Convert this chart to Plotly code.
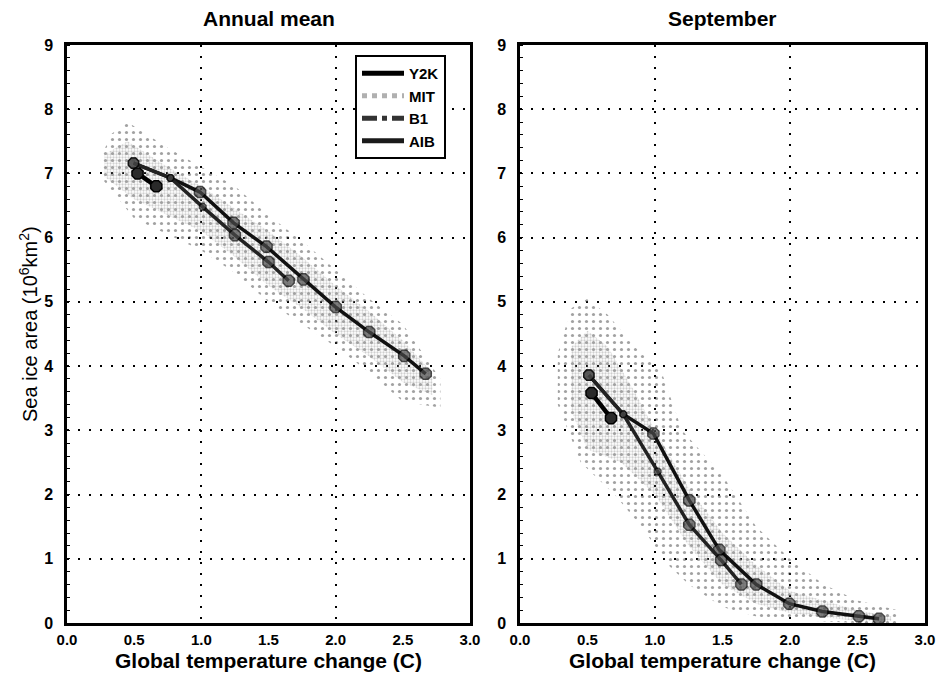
import plotly.graph_objects as go

# ---------------- data ----------------
x_tick_vals = [0.0, 0.5, 1.0, 1.5, 2.0, 2.5, 3.0]
x_tick_text = ["0.0", "0.5", "1.0", "1.5", "2.0", "2.5", "3.0"]
y_tick_vals = [0, 1, 2, 3, 4, 5, 6, 7, 8, 9]

# Annual mean panel
ann_a1b_x = [0.495, 0.77, 0.99, 1.24, 1.485, 1.76, 2.0, 2.25, 2.51, 2.67]
ann_a1b_y = [7.16, 6.93, 6.71, 6.23, 5.86, 5.35, 4.92, 4.53, 4.16, 3.88]
ann_b1_x = [0.495, 0.77, 1.01, 1.25, 1.50, 1.65]
ann_b1_y = [7.16, 6.93, 6.48, 6.04, 5.62, 5.33]
ann_y2k_x = [0.525, 0.665]
ann_y2k_y = [7.00, 6.80]

# MIT ensemble cloud (annual), outer sparse envelope and dense core
ann_mit_outer_up_x = [0.25, 0.32, 0.45, 0.75, 1.0, 1.25, 1.5, 1.75, 2.0, 2.25, 2.5, 2.78]
ann_mit_outer_up_y = [7.2, 7.6, 7.8, 7.4, 7.1, 6.8, 6.35, 5.95, 5.5, 5.05, 4.65, 3.8]
ann_mit_outer_lo_x = [0.25, 0.5, 0.75, 1.0, 1.25, 1.5, 1.75, 2.0, 2.25, 2.5, 2.78]
ann_mit_outer_lo_y = [6.95, 6.3, 6.05, 5.8, 5.45, 5.0, 4.65, 4.3, 3.9, 3.45, 3.35]
ann_mit_core_up_x = [0.28, 0.45, 0.75, 1.0, 1.25, 1.5, 1.75, 2.0, 2.25, 2.5, 2.72]
ann_mit_core_up_y = [7.3, 7.5, 7.1, 6.8, 6.45, 6.1, 5.7, 5.25, 4.85, 4.4, 3.9]
ann_mit_core_lo_x = [0.28, 0.5, 0.75, 1.0, 1.25, 1.5, 1.75, 2.0, 2.25, 2.5, 2.72]
ann_mit_core_lo_y = [6.95, 6.6, 6.35, 6.1, 5.7, 5.25, 4.9, 4.5, 4.15, 3.75, 3.55]

# September panel
sep_a1b_x = [0.51, 0.765, 0.988, 1.254, 1.476, 1.75, 1.995, 2.24, 2.51, 2.66]
sep_a1b_y = [3.86, 3.25, 2.95, 1.91, 1.14, 0.60, 0.30, 0.18, 0.105, 0.065]
sep_b1_x = [0.51, 0.765, 1.02, 1.254, 1.49, 1.64]
sep_b1_y = [3.86, 3.25, 2.36, 1.53, 0.98, 0.60]
sep_y2k_x = [0.53, 0.674]
sep_y2k_y = [3.58, 3.19]

sep_mit_outer_up_x = [0.28, 0.38, 0.5, 0.65, 0.85, 1.05, 1.2, 1.5, 1.75, 2.0, 2.25, 2.5, 2.8]
sep_mit_outer_up_y = [4.2, 4.9, 5.05, 4.8, 4.3, 3.9, 3.0, 2.3, 1.5, 1.0, 0.6, 0.35, 0.2]
sep_mit_outer_lo_x = [0.28, 0.45, 0.7, 0.9, 1.1, 1.25, 1.5, 1.75, 2.0, 2.5, 2.8]
sep_mit_outer_lo_y = [3.4, 2.5, 2.0, 1.5, 0.9, 0.6, 0.25, 0.1, 0.05, 0.0, 0.0]
sep_mit_core_up_x = [0.38, 0.5, 0.65, 0.85, 1.0, 1.25, 1.5, 1.75, 2.0, 2.5, 2.75]
sep_mit_core_up_y = [4.3, 4.55, 4.3, 3.6, 3.0, 2.1, 1.4, 0.9, 0.5, 0.2, 0.1]
sep_mit_core_lo_x = [0.38, 0.5, 0.75, 1.0, 1.25, 1.5, 1.75, 2.0, 2.5, 2.75]
sep_mit_core_lo_y = [3.3, 2.7, 2.5, 2.0, 1.2, 0.6, 0.3, 0.15, 0.03, 0.03]

legend_names = ["Y2K", "MIT", "B1", "AIB"]

# ---------------- figure ----------------
fig = go.Figure()

FONT = "Liberation Sans, Arial, sans-serif"


def envelope(ux, uy, lx, ly):
    return ux + lx[::-1], uy + ly[::-1]


def add_cloud(ux, uy, lx, ly, xa, ya, color, size, solidity):
    px, py = envelope(ux, uy, lx, ly)
    fig.add_trace(go.Scatter(
        x=px, y=py, xaxis=xa, yaxis=ya, mode="lines", fill="toself",
        line=dict(width=0, color="rgba(0,0,0,0)"),
        fillcolor="rgba(0,0,0,0)",
        fillpattern=dict(shape=".", size=size, solidity=solidity,
                         fgcolor=color, bgcolor="rgba(0,0,0,0)"),
        showlegend=False, hoverinfo="skip"))


def add_panel(xa, ya, mit, a1b, b1, y2k):
    (oux, ouy, olx, oly), (cux, cuy, clx, cly) = mit
    add_cloud(oux, ouy, olx, oly, xa, ya, "#444444", 7, 0.16)
    add_cloud(cux, cuy, clx, cly, xa, ya, "#a0a0a0", 3, 0.45)
    ax, ay = a1b
    n = len(ax)
    fig.add_trace(go.Scatter(
        x=ax, y=ay, xaxis=xa, yaxis=ya, mode="lines+markers",
        line=dict(color="#111111", width=3.5),
        marker=dict(symbol="octagon", size=[11, 7] + [12] * (n - 2),
                    color="#4a4a4a", line=dict(color="#000000", width=1.5)),
        showlegend=False))
    bx, by = b1
    m = len(bx)
    fig.add_trace(go.Scatter(
        x=bx, y=by, xaxis=xa, yaxis=ya, mode="lines+markers",
        line=dict(color="#222222", width=3.5),
        marker=dict(symbol="octagon", size=[11, 7, 7] + [12] * (m - 3),
                    color="#4a4a4a", line=dict(color="#000000", width=1.5)),
        showlegend=False))
    yx, yy = y2k
    fig.add_trace(go.Scatter(
        x=yx, y=yy, xaxis=xa, yaxis=ya, mode="lines+markers",
        line=dict(color="#000000", width=4.5),
        marker=dict(symbol="octagon", size=12, color="#2a2a2a",
                    line=dict(color="#000000", width=1.5)),
        showlegend=False))


add_panel("x", "y",
          ((ann_mit_outer_up_x, ann_mit_outer_up_y, ann_mit_outer_lo_x, ann_mit_outer_lo_y),
           (ann_mit_core_up_x, ann_mit_core_up_y, ann_mit_core_lo_x, ann_mit_core_lo_y)),
          (ann_a1b_x, ann_a1b_y), (ann_b1_x, ann_b1_y), (ann_y2k_x, ann_y2k_y))
add_panel("x2", "y2",
          ((sep_mit_outer_up_x, sep_mit_outer_up_y, sep_mit_outer_lo_x, sep_mit_outer_lo_y),
           (sep_mit_core_up_x, sep_mit_core_up_y, sep_mit_core_lo_x, sep_mit_core_lo_y)),
          (sep_a1b_x, sep_a1b_y), (sep_b1_x, sep_b1_y), (sep_y2k_x, sep_y2k_y))

# legend-only entries (lines only)
leg_styles = [
    dict(color="#000000", width=5),
    dict(color="#b0b0b0", width=5, dash="dot"),
    dict(color="#333333", width=5, dash="dashdot"),
    dict(color="#1a1a1a", width=5),
]
for name, st in zip(legend_names, leg_styles):
    fig.add_trace(go.Scatter(x=[None], y=[None], xaxis="x", yaxis="y",
                             mode="lines", line=st, name=name, showlegend=True))

# invisible traces for the label overlay axes
fig.add_trace(go.Scatter(x=[None], y=[None], xaxis="x3", yaxis="y", showlegend=False))
fig.add_trace(go.Scatter(x=[None], y=[None], xaxis="x4", yaxis="y2", showlegend=False))

W, H = 937, 685
L, T = 67, 45
R = W - 925
B = H - 623
pw = W - L - R
ph = H - T - B
d1 = [0, (470 - L) / pw]
d2 = [(520 - L) / pw, 1]

grid = dict(showgrid=True, gridcolor="#000000", gridwidth=2, griddash="2px,9px")
frame = dict(showline=True, linecolor="#000000", linewidth=2.5, mirror=True,
             zeroline=False)
tickf = dict(family=FONT, size=16, color="#000000", weight="bold")
tickx = dict(family=FONT, size=15, color="#000000", weight="bold")

xbase = dict(range=[0, 3], dtick=1, tick0=0, showticklabels=False, ticks="",
             automargin=False, **grid, **frame)
xlab = dict(range=[0, 3], tickvals=x_tick_vals, ticktext=x_tick_text,
            showgrid=False, showline=False, zeroline=False, ticks="",
            tickfont=tickx, side="bottom", ticklabelstandoff=6,
            automargin=False)
ybase = dict(range=[0, 9], tickvals=y_tick_vals, ticks="", tickfont=tickf,
             ticklabelstandoff=8, automargin=False, **grid, **frame,
             minor=dict(ticks="inside", ticklen=3, tickcolor="#000000",
                        dtick=0.2, showgrid=False))

title_font = dict(family=FONT, size=21, color="#000000", weight="bold")
xtitle_font = dict(family=FONT, size=21, color="#000000", weight="bold")

fig.update_layout(
    width=W, height=H,
    margin=dict(l=L, r=R, t=T, b=B, autoexpand=False),
    paper_bgcolor="white", plot_bgcolor="white",
    xaxis=dict(domain=d1, anchor="y", **xbase),
    xaxis2=dict(domain=d2, anchor="y2", **xbase),
    xaxis3=dict(overlaying="x", anchor="y", **xlab),
    xaxis4=dict(overlaying="x2", anchor="y2", **xlab),
    yaxis=dict(domain=[0, 1], anchor="x", **ybase),
    yaxis2=dict(domain=[0, 1], anchor="x2", **ybase),
    legend=dict(x=(355 - L) / pw, y=1 - (55 - T) / ph,
                xanchor="left", yanchor="top",
                bgcolor="white", bordercolor="#000000", borderwidth=2,
                font=dict(family=FONT, size=15, color="#000000", weight="bold"),
                itemwidth=42, tracegroupgap=0),
    showlegend=True,
    annotations=[
        dict(text="Annual mean", x=(d1[0] + d1[1]) / 2, y=1, xref="paper",
             yref="paper", xanchor="center", yanchor="middle", yshift=45 - 18,
             showarrow=False, font=title_font),
        dict(text="September", x=(d2[0] + d2[1]) / 2, y=1, xref="paper",
             yref="paper", xanchor="center", yanchor="middle", yshift=45 - 18,
             showarrow=False, font=title_font),
        dict(text="Global temperature change (C)", x=(d1[0] + d1[1]) / 2,
             y=0, xref="paper", yref="paper", xanchor="center",
             yanchor="middle", yshift=-(660 - 623), showarrow=False,
             font=xtitle_font),
        dict(text="Global temperature change (C)", x=(d2[0] + d2[1]) / 2,
             y=0, xref="paper", yref="paper", xanchor="center",
             yanchor="middle", yshift=-(660 - 623), showarrow=False,
             font=xtitle_font),
        dict(text="Sea ice area (10<sup>6</sup>km<sup>2</sup>)", x=0, y=0.5,
             xref="paper", yref="paper", xanchor="center", yanchor="middle",
             xshift=-(67 - 28), yshift=10, textangle=-90, showarrow=False,
             font=dict(family=FONT, size=20, color="#000000")),
    ],
)

fig.write_html(
    "out.html",
    config={"displayModeBar": False},
    post_script="document.body.style.margin='0';"
                "document.body.style.overflow='hidden';",
)
